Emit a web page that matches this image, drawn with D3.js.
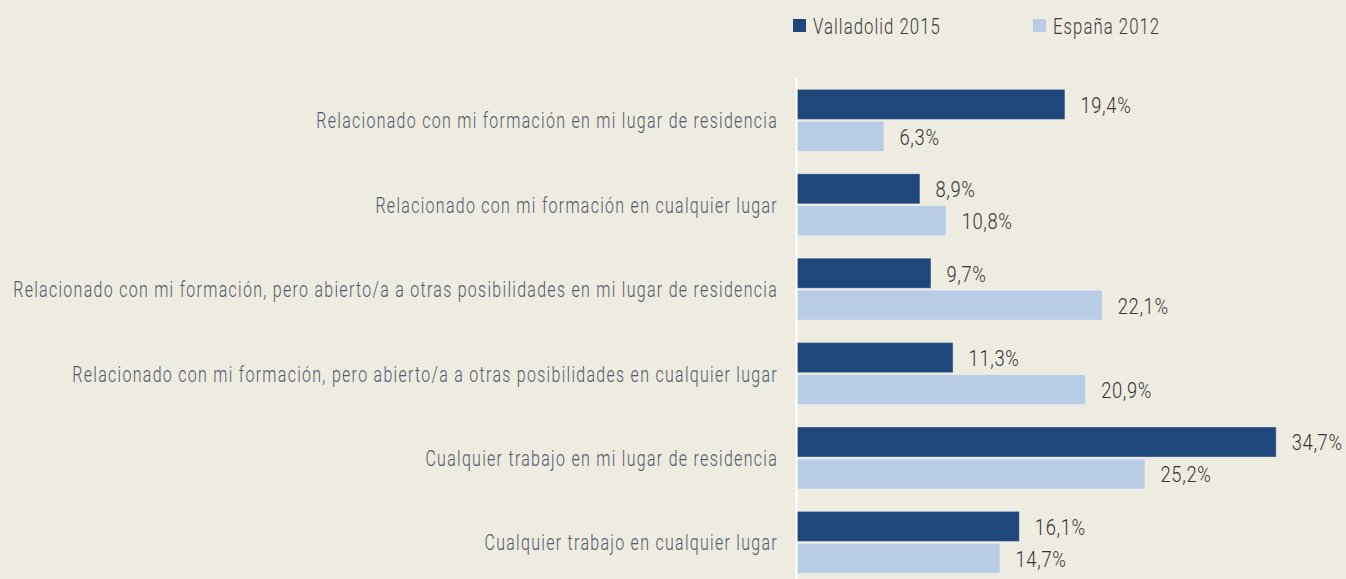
<!DOCTYPE html>
<html><head><meta charset="utf-8">
<script src="https://cdn.jsdelivr.net/npm/d3@7"></script>
<style>
html,body{margin:0;padding:0;background:#eeebe1;}
svg{display:block;}
text{font-family:Roboto,"DejaVu Sans Condensed",sans-serif;font-weight:300;}
</style></head><body>
<svg id="c" width="1346" height="579"></svg>
<script>
const categories = [
  "Relacionado con mi formación en mi lugar de residencia",
  "Relacionado con mi formación en cualquier lugar",
  "Relacionado con mi formación, pero abierto/a a otras posibilidades en mi lugar de residencia",
  "Relacionado con mi formación, pero abierto/a a otras posibilidades en cualquier lugar",
  "Cualquier trabajo en mi lugar de residencia",
  "Cualquier trabajo en cualquier lugar"
];
const seriesNames = ["Valladolid 2015", "España 2012"];
const valladolid = [19.4, 8.9, 9.7, 11.3, 34.7, 16.1];
const espana = [6.3, 10.8, 22.1, 20.9, 25.2, 14.7];
const colors = ["#1f4779", "#b8cce5"];

const svg = d3.select("#c");
svg.append("rect").attr("width",1346).attr("height",579).attr("fill","#eeebe1");

const x = d3.scaleLinear().domain([0, 35]).range([797, 797 + 35*13.81]);
const y = d3.scaleBand().domain(categories).range([78.2, 78.2 + 6*84.4]).paddingInner(0.265).paddingOuter(0.1325);
const ys = d3.scaleBand().domain(seriesNames).range([0, y.bandwidth()]).paddingInner(0.06);

const data = categories.map((c,i)=>({cat:c, vals:[valladolid[i], espana[i]]}));

const g = svg.selectAll("g.grp").data(data).join("g").attr("class","grp")
  .attr("transform", d=>`translate(0,${y(d.cat)})`);

g.selectAll("rect").data(d=>d.vals.map((v,j)=>({v, s:seriesNames[j], j})))
  .join("rect")
  .attr("x", x(0)).attr("y", d=>ys(d.s))
  .attr("width", d=>x(d.v)-x(0)).attr("height", ys.bandwidth())
  .attr("fill", d=>colors[d.j])
  .attr("stroke","#ffffff").attr("stroke-opacity",0.35).attr("stroke-width",1);

const vals = g.selectAll("text.val").data(d=>d.vals.map((v,j)=>({v, s:seriesNames[j], j})))
  .join("text").attr("class","val")
  .attr("y", d=>ys(d.s)+ys.bandwidth()/2)
  .attr("dy","0.38em")
  .attr("font-size",22).attr("letter-spacing","0.8px").attr("fill","#333333")
  .text(d=>d.v.toFixed(1).replace(".", ",") + "%");
// condense horizontally to match the narrow reference typeface
const vRef = vals.filter((d,i)=>i===0).node();
const vScale = 51 / vRef.getComputedTextLength();
vals.attr("transform", d=>`translate(${x(d.v)+15.5},0) scale(${vScale},1)`).attr("x",0);

// category labels
const yAxis = d3.axisLeft(y).tickSize(0).tickPadding(0);
const ax = svg.append("g").attr("transform","translate(778,0)").call(yAxis);
ax.select(".domain").remove();
const labs = ax.selectAll("text").attr("font-size",22).attr("letter-spacing","1.8px").attr("fill","#4e5a6a")
  .attr("font-family",'Roboto,"DejaVu Sans Condensed",sans-serif').attr("font-weight",300)
  .attr("dy","0.36em");
const lScale = 462 / labs.nodes()[0].getComputedTextLength();
labs.attr("transform",`scale(${lScale},1)`);

// axis line
svg.append("line").attr("x1",796.5).attr("x2",796.5).attr("y1",78).attr("y2",579)
  .attr("stroke","#ffffff").attr("stroke-width",2);

// legend
const lx = [793, 1033];
const lg = svg.selectAll("g.leg").data(seriesNames).join("g").attr("class","leg")
  .attr("transform",(d,i)=>`translate(${lx[i]},19)`);
lg.append("rect").attr("width",13).attr("height",13).attr("fill",(d,i)=>colors[i]);
const lt = lg.append("text").attr("y",7).attr("dy","0.38em")
  .attr("font-size",22).attr("letter-spacing","1.4px").attr("fill","#3a3a3a").text(d=>d);
const gScale = 128 / lt.nodes()[0].getComputedTextLength();
lt.attr("transform",`translate(20,0) scale(${gScale},1)`);
</script>
</body></html>
